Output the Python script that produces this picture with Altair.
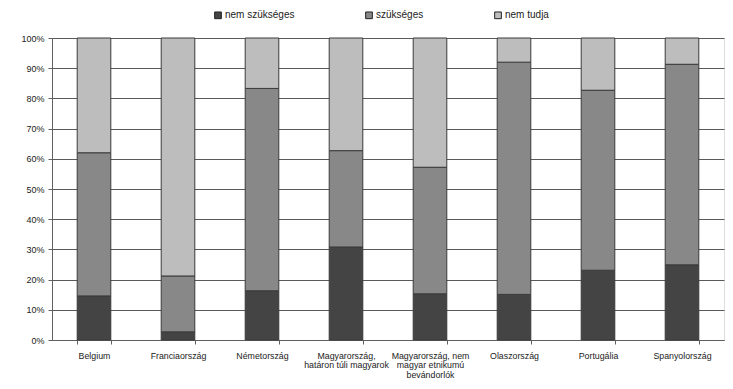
import altair as alt
import pandas as pd

categories = [
    "Belgium",
    "Franciaország",
    "Németország",
    "Magyarország,|határon túli magyarok",
    "Magyarország, nem|magyar etnikumú|bevándorlók",
    "Olaszország",
    "Portugália",
    "Spanyolország",
]
series = ["nem szükséges", "szükséges", "nem tudja"]
nem_szukseges = [14.6, 2.7, 16.3, 30.8, 15.3, 15.1, 23.1, 24.9]
szukseges = [47.4, 18.5, 67.0, 31.9, 41.9, 76.9, 59.6, 66.4]
nem_tudja = [38.0, 78.8, 16.7, 37.3, 42.8, 8.0, 17.3, 8.7]
colors = ["#444444", "#888888", "#bdbdbd"]
y_ticks = [0, 10, 20, 30, 40, 50, 60, 70, 80, 90, 100]

rows = []
for i, c in enumerate(categories):
    for j, (s, vals) in enumerate(zip(series, [nem_szukseges, szukseges, nem_tudja])):
        rows.append({"cat": c, "series": s, "value": vals[i], "ord": j})
df = pd.DataFrame(rows)

font = "Liberation Sans"

chart = alt.Chart(df).mark_bar(stroke="#3a3a3a", strokeWidth=1).encode(
    x=alt.X(
        "cat:N",
        sort=categories,
        title=None,
        scale=alt.Scale(paddingInner=0.6, paddingOuter=0.3),
        axis=alt.Axis(
            labelAngle=0,
            labelExpr="split(datum.label, '|')",
            tickBand="extent",
            tickSize=4,
            tickColor="#606060",
            domainColor="#606060",
            labelFont=font,
            labelFontSize=8.8,
            labelColor="#222222",
            labelPadding=7,
            labelLineHeight=9.7,
            labelBaseline="top",
            grid=False,
        ),
    ),
    y=alt.Y(
        "value:Q",
        stack="zero",
        title=None,
        scale=alt.Scale(domain=[0, 100], nice=False),
        axis=alt.Axis(
            values=y_ticks,
            labelExpr="datum.value + '%'",
            tickSize=4,
            tickColor="#606060",
            domainColor="#606060",
            gridColor="#5a5a5a",
            gridWidth=1,
            labelFont=font,
            labelFontSize=9,
            labelColor="#222222",
            labelPadding=4,
        ),
    ),
    color=alt.Color(
        "series:N",
        sort=series,
        scale=alt.Scale(domain=series, range=colors),
        legend=alt.Legend(
            title=None,
            orient="none",
            legendX=161,
            legendY=-28,
            direction="horizontal",
            columns=3,
            columnPadding=68,
            symbolType="square",
            symbolSize=45,
            symbolStrokeColor="#222222",
            symbolStrokeWidth=1,
            labelFont=font,
            labelFontSize=10,
            labelColor="#222222",
            labelOffset=2,
        ),
    ),
    order=alt.Order("ord:Q", sort="ascending"),
).properties(
    width=672,
    height=302,
    autosize=alt.AutoSizeParams(type="none"),
    padding={"left": 44, "top": 30, "right": 1, "bottom": 41},
).configure_view(
    stroke="#999999", strokeWidth=1
).configure(background="white")

chart.save("out.html", embed_options={"renderer": "svg", "actions": False})
